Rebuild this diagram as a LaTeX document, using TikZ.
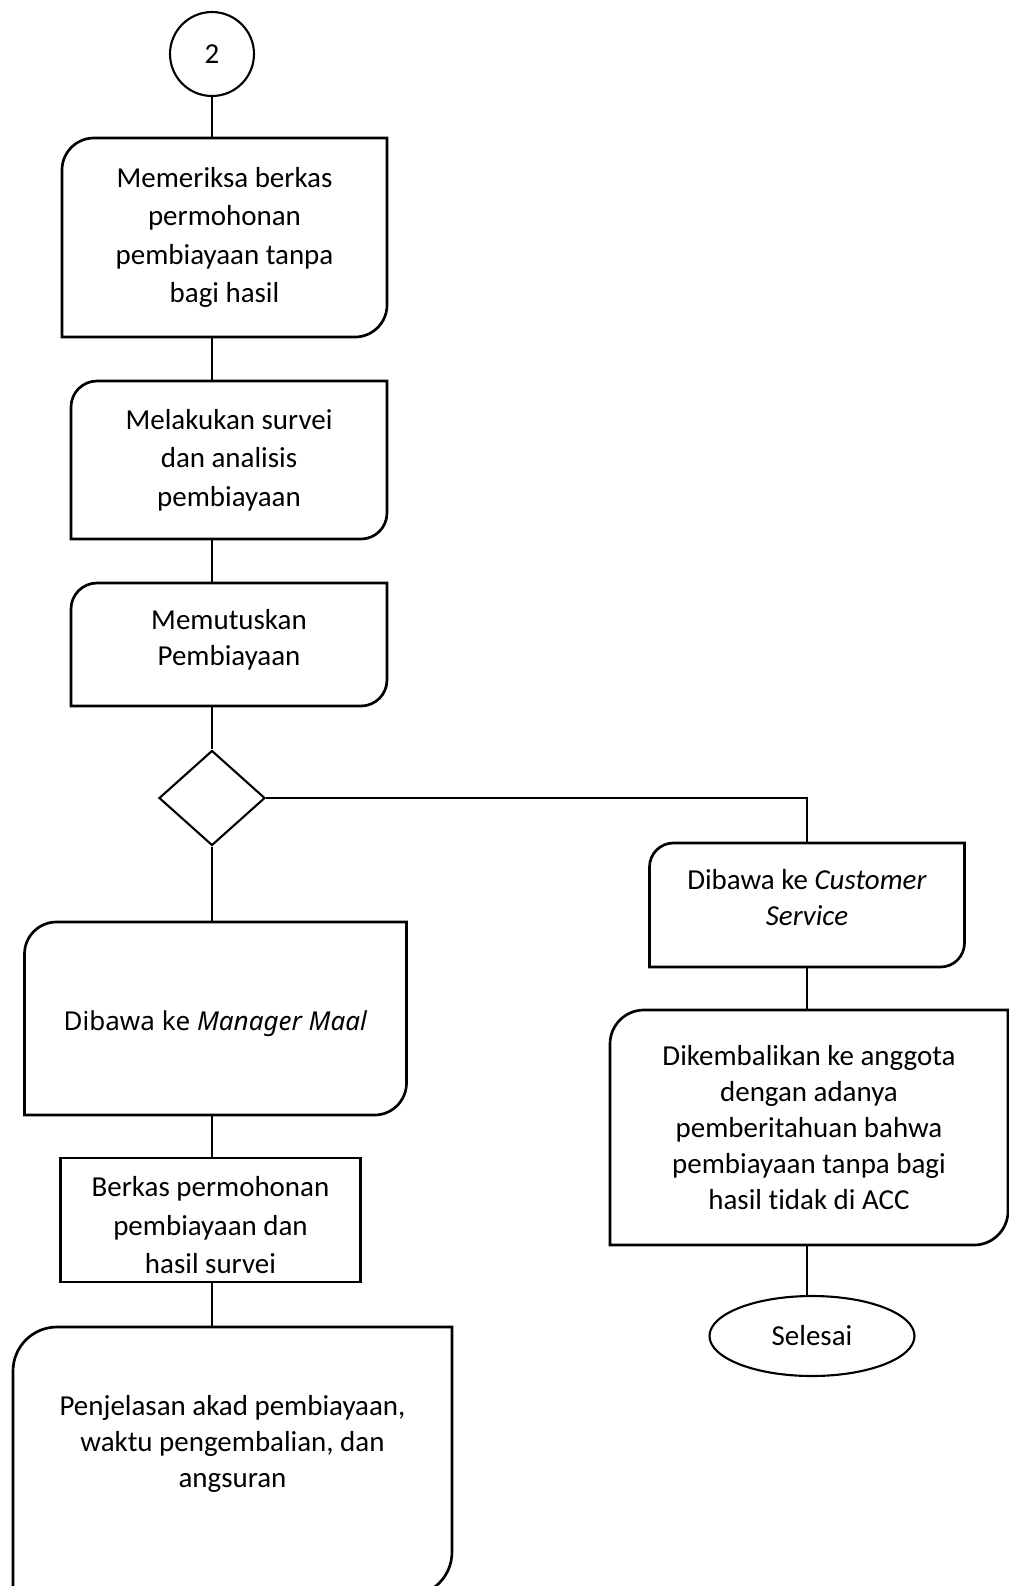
\documentclass[tikz,border=0pt]{standalone}
\usepackage{fontspec}
\setmainfont{Carlito}[Ligatures=CommonOff]
\newfontfamily\notofont{Noto Sans}
\usepackage{tikz}
\usetikzlibrary{shapes.geometric}
\usetikzlibrary{calc}

% outline with rounded top left and bottom right corners
\newcommand{\cornerbox}[2]{%
  \draw [boxline] (#1.south west) -- ([yshift=-#2]#1.north west)
    arc [start angle=180, end angle=90, radius=#2] -- (#1.north east)
    -- ([yshift=#2]#1.south east)
    arc [start angle=0, end angle=-90, radius=#2] -- cycle;}
\newcommand{\padbelow}[1]{\rule[-#1]{0pt}{0pt}}
\newcommand{\padabove}[1]{\rule{0pt}{#1}}

\begin{document}
\begin{tikzpicture}[
  boxline/.style={line width=1.9pt},
  link/.style={line width=0.9pt},
  flowbox/.style={shape=rectangle,inner sep=0pt,outer sep=0pt,align=center,
    font=\fontsize{20.6pt}{27.3pt}\selectfont},
  tightbox/.style={flowbox,font=\fontsize{20.6pt}{25.6pt}\selectfont}]
\useasboundingbox (0,0) rectangle (25.225,-39.65);
\path
(5.3,-1.35) node [shape=circle,draw,line width=1.5pt,minimum size=2.1cm,inner sep=0pt,
  font=\fontsize{20.6pt}{25pt}\selectfont](start) {2}
(5.6125,-5.9375) node [flowbox,minimum width=8.125cm,minimum height=4.975cm](check)
  {Memeriksa berkas\\permohonan\\pembiayaan tanpa\\bagi hasil}
(5.725,-11.5) node [flowbox,minimum width=7.9cm,minimum height=3.95cm](survey)
  {Melakukan survei\\dan analisis\\pembiayaan}
(5.725,-16.1125) node [tightbox,minimum width=7.9cm,minimum height=3.075cm](decide)
  {Memutuskan\\Pembiayaan\padbelow{0.33cm}}
(5.3,-19.95) node [shape=diamond,draw,line width=1.5pt,minimum width=2.65cm,
  minimum height=2.375cm,inner sep=0pt](choice) {}
(5.3875,-25.4625) node [flowbox,minimum width=9.55cm,minimum height=4.825cm,
  font=\notofont\fontsize{18.5pt}{24pt}\selectfont](manager)
  {\padabove{0.74cm}Dibawa ke \textit{Manager Maal}}
(5.2625,-30.5) node [flowbox,draw,line width=1.9pt,minimum width=7.5cm,
  minimum height=3.1cm](files)
  {\padabove{0.77cm}Berkas permohonan\\pembiayaan dan\\hasil survei}
(5.8125,-36.5375) node [tightbox,minimum width=10.975cm,minimum height=6.725cm](explain)
  {Penjelasan akad pembiayaan,\\waktu pengembalian, dan\\angsuran\padbelow{1.0cm}}
(20.175,-22.625) node [tightbox,minimum width=7.875cm,minimum height=3.1cm](cs)
  {Dibawa ke \textit{Customer}\\\textit{Service}\padbelow{0.4cm}}
(20.225,-28.1875) node [tightbox,minimum width=9.95cm,minimum height=5.875cm](back)
  {Dikembalikan ke anggota\\dengan adanya\\pemberitahuan bahwa\\pembiayaan tanpa bagi\\hasil tidak di ACC}
(20.3,-33.4) node [shape=ellipse,draw,line width=1.5pt,minimum width=5.125cm,
  minimum height=2cm,inner sep=0pt,font=\fontsize{20.6pt}{25pt}\selectfont](done) {Selesai};
\cornerbox{check}{0.8cm}
\cornerbox{survey}{0.65cm}
\cornerbox{decide}{0.65cm}
\cornerbox{manager}{0.8cm}
\cornerbox{explain}{1.1cm}
\cornerbox{cs}{0.6cm}
\cornerbox{back}{0.85cm}
% left column
\draw [link](start) --(start |- check.north);
\draw [link](start |- check.south) --(start |- survey.north);
\draw [link](start |- survey.south) --(start |- decide.north);
\draw [link](start |- decide.south) --(choice);
\draw [link](choice) --(choice |- manager.north);
\draw [link](choice |- manager.south) --(choice |- files.north);
\draw [link](choice |- files.south) --(choice |- explain.north);
% right column
\draw [link](choice.east) -|(cs);
\draw [link](cs) --(cs |- back.north);
\draw [link](cs |- back.south) --(cs |- done.north);
\end{tikzpicture}
\end{document}
